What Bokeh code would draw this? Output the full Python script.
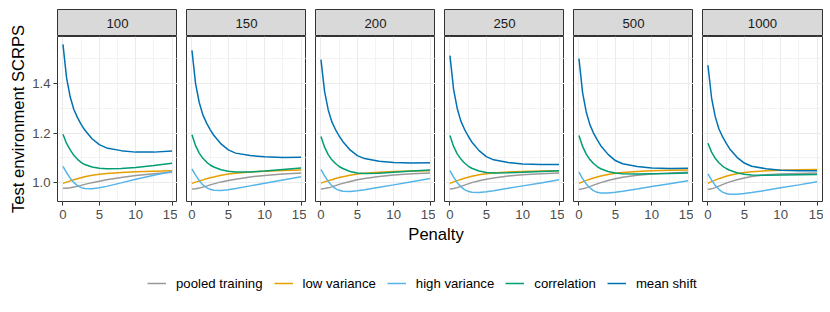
import math
from bokeh.plotting import figure
from bokeh.layouts import column, row
from bokeh.models import Range1d, FixedTicker, PrintfTickFormatter, Legend, LegendItem
from bokeh.core.properties import value
from bokeh.embed import file_html
from bokeh.resources import INLINE

FONT = "Liberation Sans"
SMALL = "13.2px"
BIG = "16.6px"

sample_sizes = ["100", "150", "200", "250", "500", "1000"]
penalty = [0, 0.5, 1, 1.5, 2, 2.5, 3, 4, 5, 6, 8, 10, 12.5, 15]

series_names = ["pooled training", "low variance", "high variance", "correlation", "mean shift"]
series_colors = ["#999999", "#E69F00", "#56B4E9", "#009E73", "#0072B2"]

pooled_training = [
    [0.977, 0.977, 0.979, 0.982, 0.985, 0.989, 0.993, 1.000, 1.006, 1.012, 1.021, 1.029, 1.036, 1.042],
    [0.974, 0.975, 0.978, 0.982, 0.986, 0.991, 0.995, 1.003, 1.009, 1.014, 1.023, 1.029, 1.035, 1.039],
    [0.974, 0.976, 0.979, 0.983, 0.988, 0.993, 0.997, 1.005, 1.012, 1.017, 1.025, 1.031, 1.036, 1.039],
    [0.974, 0.976, 0.980, 0.985, 0.990, 0.995, 1.000, 1.008, 1.014, 1.019, 1.027, 1.032, 1.036, 1.039],
    [0.972, 0.975, 0.979, 0.984, 0.990, 0.995, 1.000, 1.009, 1.016, 1.022, 1.030, 1.035, 1.039, 1.042],
    [0.972, 0.975, 0.980, 0.986, 0.992, 0.998, 1.003, 1.012, 1.019, 1.025, 1.032, 1.035, 1.037, 1.039],
]
low_variance = [
    [0.997, 1.002, 1.007, 1.012, 1.016, 1.020, 1.024, 1.030, 1.034, 1.037, 1.041, 1.044, 1.046, 1.048],
    [0.997, 1.002, 1.007, 1.011, 1.016, 1.020, 1.023, 1.030, 1.035, 1.038, 1.043, 1.046, 1.049, 1.051],
    [0.998, 1.003, 1.008, 1.012, 1.017, 1.021, 1.024, 1.030, 1.035, 1.038, 1.042, 1.045, 1.047, 1.048],
    [0.997, 1.003, 1.008, 1.013, 1.018, 1.022, 1.026, 1.032, 1.036, 1.039, 1.043, 1.045, 1.047, 1.048],
    [0.997, 1.003, 1.009, 1.014, 1.019, 1.023, 1.027, 1.033, 1.038, 1.041, 1.045, 1.048, 1.050, 1.051],
    [0.997, 1.004, 1.010, 1.016, 1.021, 1.026, 1.030, 1.036, 1.041, 1.044, 1.048, 1.050, 1.052, 1.053],
]
high_variance = [
    [1.066, 1.040, 1.018, 1.000, 0.988, 0.980, 0.976, 0.975, 0.979, 0.985, 0.999, 1.014, 1.030, 1.045],
    [1.055, 1.030, 1.008, 0.991, 0.980, 0.973, 0.969, 0.968, 0.971, 0.976, 0.987, 0.998, 1.011, 1.024],
    [1.053, 1.027, 1.005, 0.988, 0.976, 0.969, 0.965, 0.964, 0.967, 0.971, 0.981, 0.991, 1.004, 1.017],
    [1.048, 1.022, 1.000, 0.984, 0.972, 0.965, 0.961, 0.960, 0.963, 0.967, 0.977, 0.987, 0.999, 1.012],
    [1.042, 1.016, 0.995, 0.979, 0.968, 0.961, 0.958, 0.958, 0.961, 0.965, 0.974, 0.984, 0.996, 1.008],
    [1.035, 1.010, 0.989, 0.973, 0.962, 0.956, 0.953, 0.953, 0.956, 0.960, 0.969, 0.979, 0.991, 1.004],
]
correlation = [
    [1.195, 1.158, 1.132, 1.110, 1.094, 1.082, 1.073, 1.063, 1.058, 1.056, 1.057, 1.061, 1.069, 1.078],
    [1.193, 1.149, 1.119, 1.098, 1.083, 1.071, 1.063, 1.052, 1.046, 1.043, 1.043, 1.047, 1.053, 1.059],
    [1.186, 1.143, 1.113, 1.092, 1.077, 1.065, 1.057, 1.045, 1.039, 1.037, 1.038, 1.042, 1.047, 1.051],
    [1.190, 1.146, 1.116, 1.095, 1.079, 1.067, 1.058, 1.047, 1.041, 1.039, 1.040, 1.042, 1.045, 1.048],
    [1.190, 1.146, 1.115, 1.093, 1.077, 1.065, 1.056, 1.045, 1.039, 1.036, 1.035, 1.036, 1.037, 1.039],
    [1.159, 1.123, 1.098, 1.080, 1.067, 1.057, 1.050, 1.040, 1.034, 1.031, 1.030, 1.031, 1.032, 1.033],
]
mean_shift = [
    [1.557, 1.422, 1.345, 1.295, 1.262, 1.235, 1.212, 1.177, 1.153, 1.140, 1.129, 1.123, 1.123, 1.128],
    [1.533, 1.399, 1.323, 1.273, 1.241, 1.214, 1.191, 1.156, 1.132, 1.119, 1.109, 1.104, 1.101, 1.102],
    [1.496, 1.367, 1.293, 1.245, 1.214, 1.188, 1.166, 1.132, 1.109, 1.097, 1.086, 1.081, 1.079, 1.080],
    [1.512, 1.376, 1.299, 1.248, 1.215, 1.188, 1.164, 1.129, 1.105, 1.092, 1.081, 1.075, 1.073, 1.073],
    [1.500, 1.363, 1.285, 1.234, 1.200, 1.173, 1.149, 1.114, 1.089, 1.076, 1.065, 1.059, 1.057, 1.058],
    [1.473, 1.341, 1.266, 1.217, 1.185, 1.159, 1.136, 1.102, 1.079, 1.066, 1.056, 1.050, 1.048, 1.048],
]
all_series = [pooled_training, low_variance, high_variance, correlation, mean_shift]

x_ticks = [0, 5, 10, 15]
x_minor = [2.5, 7.5, 12.5]
y_ticks = [1.0, 1.2, 1.4]
y_minor = [0.9, 1.1, 1.3, 1.5]

PANEL_W = 120
PANEL_H = 165
STRIP_H = 27
TOP = 9
LABEL_W = 29
LEFT0 = 57
GAP = 9
XAXIS_H = 20

y_range = Range1d(0.924, 1.589)

# y-axis title column (kept in its own narrow figure so the long title is not clipped)
upper_h = TOP + STRIP_H + PANEL_H + XAXIS_H
lab = figure(width=LABEL_W, height=upper_h, x_range=Range1d(0, LABEL_W), y_range=Range1d(upper_h, 0),
             x_axis_type=None, y_axis_type=None, output_backend="svg", toolbar_location=None,
             min_border_left=0, min_border_right=0, min_border_top=0, min_border_bottom=0)
lab.outline_line_color = None
lab.text(x=[17.5], y=[TOP + STRIP_H + PANEL_H / 2], text=["Test environment SCRPS"], angle=math.pi / 2,
         text_align="center", text_baseline="middle", text_font=value(FONT),
         text_font_size=BIG, text_color="black")

strips = []
panels = []
for i, name in enumerate(sample_sizes):
    left = (LEFT0 - LABEL_W) if i == 0 else GAP
    right = 1 if i == len(sample_sizes) - 1 else 0
    w = left + PANEL_W + right

    s = figure(width=w, height=STRIP_H + TOP, x_range=(0, 1), y_range=(0, 1),
               x_axis_type=None, y_axis_type=None, output_backend="svg",
               toolbar_location=None, min_border_left=left, min_border_right=right,
               min_border_top=TOP, min_border_bottom=0)
    s.background_fill_color = "#D9D9D9"
    s.outline_line_color = "#333333"
    s.outline_line_width = 1
    s.text(x=[0.5], y=[0.5], text=[name], text_align="center", text_baseline="middle",
           text_font=value(FONT), text_font_size=SMALL, text_color="#1A1A1A")
    strips.append(s)

    p = figure(width=w, height=PANEL_H + XAXIS_H, x_range=Range1d(-0.75, 15.75), y_range=y_range,
               output_backend="svg", toolbar_location=None,
               y_axis_location="left" if i == 0 else None,
               min_border_left=left, min_border_right=right,
               min_border_top=0, min_border_bottom=XAXIS_H)
    p.background_fill_color = "white"
    p.outline_line_color = "#333333"
    p.outline_line_width = 1

    p.xaxis.ticker = FixedTicker(ticks=x_ticks, minor_ticks=x_minor)
    p.xgrid.ticker = FixedTicker(ticks=x_ticks, minor_ticks=x_minor)
    p.ygrid.ticker = FixedTicker(ticks=y_ticks, minor_ticks=y_minor)
    for g in (p.xgrid, p.ygrid):
        g.grid_line_color = "#EBEBEB"
        g.grid_line_width = 1.1
        g.minor_grid_line_color = "#EBEBEB"
        g.minor_grid_line_width = 0.6

    p.xaxis.major_label_standoff = 4
    axes = [p.xaxis[0]]
    if i == 0:
        p.yaxis.ticker = FixedTicker(ticks=y_ticks, minor_ticks=y_minor)
        p.yaxis.formatter = PrintfTickFormatter(format="%.1f")
        p.yaxis.major_label_standoff = 3
        axes.append(p.yaxis[0])
    for ax in axes:
        ax.axis_line_color = None
        ax.major_tick_in = 0
        ax.major_tick_out = 4
        ax.major_tick_line_color = "#333333"
        ax.minor_tick_line_color = None
        ax.major_label_text_font = FONT
        ax.major_label_text_font_size = SMALL
        ax.major_label_text_color = "#4D4D4D"

    for vals, color in zip(all_series, series_colors):
        p.line(x=penalty, y=vals[i], line_color=color, line_width=1.5)
    panels.append(p)

total_w = LABEL_W + sum(p.width for p in panels)
bottom = figure(width=total_w, height=75, x_range=(0, 1), y_range=(0, 1),
                x_axis_type=None, y_axis_type=None, output_backend="svg",
                toolbar_location=None, min_border_left=LEFT0, min_border_right=GAP,
                min_border_top=0, min_border_bottom=0)
bottom.outline_line_color = None
bottom.title.text = "Penalty"
bottom.title.align = "center"
bottom.title.text_font = FONT
bottom.title.text_font_size = BIG
bottom.title.text_font_style = "normal"
bottom.title.text_color = "black"
bottom.title.standoff = 2

nan = float("nan")
items = []
for name, color in zip(series_names, series_colors):
    r = bottom.line(x=[nan, nan], y=[nan, nan], line_color=color, line_width=1.5)
    items.append(LegendItem(label=name, renderers=[r]))
legend = Legend(items=items, orientation="horizontal", location=(90, 5),
                glyph_width=19, glyph_height=16, label_standoff=10, spacing=11,
                padding=0, margin=0, border_line_color=None, background_fill_alpha=0,
                label_text_font=FONT, label_text_font_size=SMALL, label_text_color="black")
bottom.add_layout(legend, "center")

layout = column(row(lab, column(row(*strips), row(*panels))), bottom)

with open("out.html", "w") as f:
    f.write(file_html(layout, INLINE))
